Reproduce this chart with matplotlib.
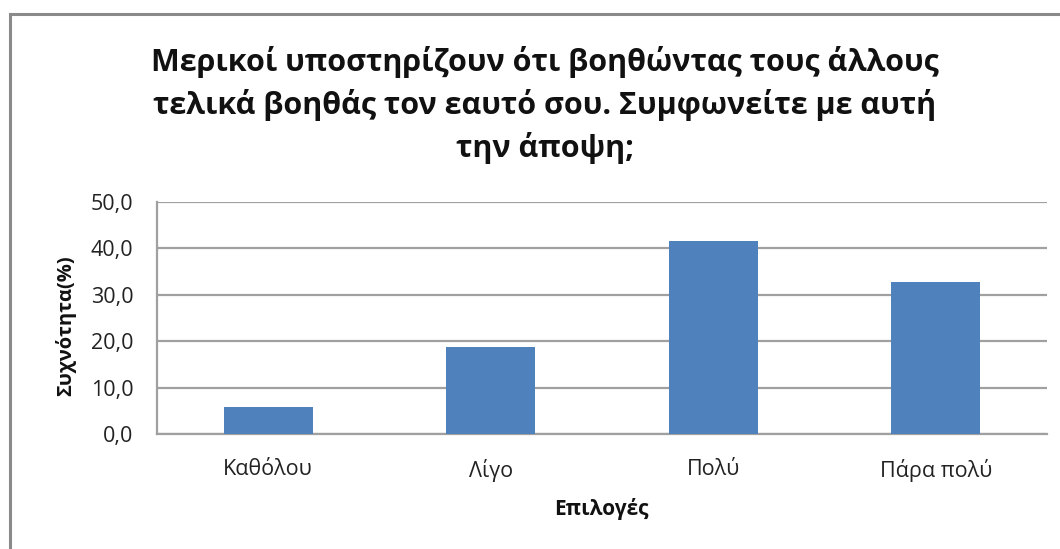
import matplotlib
matplotlib.use("Agg")
import matplotlib.pyplot as plt
from matplotlib.patches import Rectangle

categories = ["Καθόλου", "Λίγο", "Πολύ", "Πάρα πολύ"]
values = [5.9, 18.8, 41.7, 32.8]
yticks = [0, 10, 20, 30, 40, 50]
ytick_labels = ["0,0", "10,0", "20,0", "30,0", "40,0", "50,0"]
title = "Μερικοί υποστηρίζουν ότι βοηθώντας τους άλλους\nτελικά βοηθάς τον εαυτό σου. Συμφωνείτε με αυτή\nτην άποψη;"
xlabel = "Επιλογές"
ylabel = "Συχνότητα(%)"

plt.rcParams['font.family'] = ['Open Sans', 'DejaVu Sans']

W, H = 1060, 549
fig = plt.figure(figsize=(W/100, H/100), dpi=100)
fig.patch.set_facecolor('white')

# outer border (partially cut off at right and bottom)
fig.add_artist(Rectangle((10/W, -0.05), 1.2, 1 - 14/H + 0.05, transform=fig.transFigure,
                         fill=False, edgecolor='#8a8a8a', linewidth=2.2))

ax = fig.add_axes([157/W, 1 - 434/H, (1047-157)/W, (434-202)/H])
x = list(range(len(categories)))
ax.bar(x, values, width=0.4, color='#4F81BD', zorder=3)
ax.set_xlim(-0.5, len(categories) - 0.5)
ax.set_ylim(0, 50)
ax.set_yticks(yticks)
ax.set_yticklabels(ytick_labels, fontsize=15.5, color='#222222')
ax.set_xticks(x)
ax.set_xticklabels(categories, fontsize=15.5, color='#222222')
ax.tick_params(axis='x', length=0, pad=18)
ax.tick_params(axis='y', length=0, pad=17)
ax.grid(axis='y', color='#a0a0a0', linewidth=1.6, zorder=0)
for s in ['top', 'right']:
    ax.spines[s].set_visible(False)
for s in ['left', 'bottom']:
    ax.spines[s].set_color('#a0a0a0')
    ax.spines[s].set_linewidth(1.6)

fig.text(545/W, 1 - 105/H, title, ha='center', va='center', fontsize=22,
         fontweight='bold', linespacing=1.42, color='#111111')
fig.text(601/W, 1 - 509/H, xlabel, ha='center', va='center', fontsize=15,
         fontweight='bold', color='#111111')
fig.text(66/W, 1 - 326/H, ylabel, ha='center', va='center', fontsize=14.5,
         fontweight='bold', rotation=90, color='#111111')

fig.savefig("out.png", dpi=100, facecolor='white')
